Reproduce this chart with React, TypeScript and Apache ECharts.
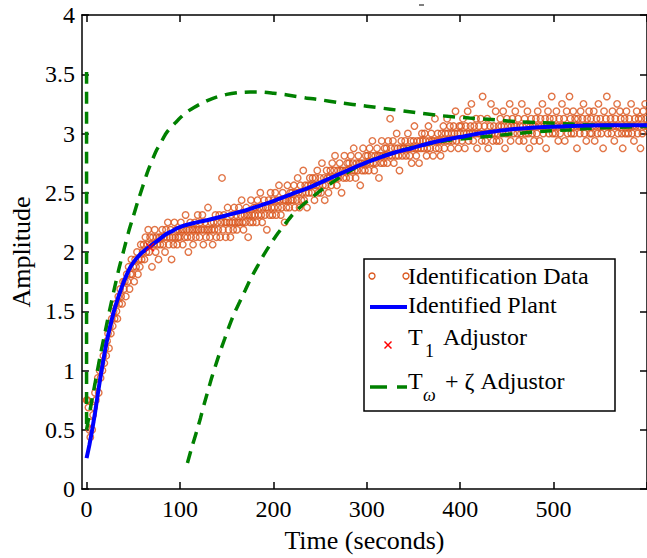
import React, { useEffect, useRef } from "react";
import * as echarts from "echarts";

// ---- axes ----
const X_MIN = -5;
const X_MAX = 600;
const X_TICKS = [0, 100, 200, 300, 400, 500, 600];
const X_LABELS = [0, 100, 200, 300, 400, 500];
const Y_MIN = 0;
const Y_MAX = 4;
const Y_STEP = 0.5;

// ---- identification data (sampled every 1 s, quantised, 1 count = 1/16) ----
const SAMPLE_PERIOD = 1;
const COUNT_LSB = 1 / 16;
const dataCounts = [
  12, 12, 11, 8, 7, 9, 8, 10, 11, 13, 12, 14, 15, 13, 16, 15, 17, 16, 18, 17,
  19, 18, 20, 21, 19, 22, 21, 23, 22, 24, 23, 25, 24, 23, 26, 25, 27, 26, 25, 28,
  27, 28, 26, 29, 28, 30, 27, 29, 31, 29, 30, 28, 31, 30, 32, 29, 31, 30, 33, 31,
  32, 33, 31, 34, 32, 33, 35, 32, 34, 33, 30, 34, 33, 35, 32, 34, 33, 31, 34, 33,
  34, 35, 33, 34, 32, 35, 34, 36, 33, 34, 35, 31, 34, 33, 36, 34, 35, 33, 34, 35,
  34, 36, 35, 33, 35, 34, 37, 35, 34, 32, 35, 36, 34, 35, 33, 35, 36, 34, 35, 37,
  35, 34, 36, 35, 37, 33, 35, 36, 34, 35, 38, 35, 34, 36, 35, 33, 36, 35, 37, 34,
  36, 35, 37, 34, 36, 42, 35, 37, 36, 34, 36, 38, 35, 36, 34, 37, 36, 35, 38, 36,
  37, 35, 36, 38, 36, 37, 39, 36, 35, 37, 36, 38, 37, 34, 37, 36, 39, 37, 36, 38,
  37, 38, 36, 39, 37, 38, 40, 37, 36, 38, 39, 37, 38, 35, 38, 39, 37, 40, 38, 37,
  39, 38, 40, 37, 39, 38, 41, 39, 37, 38, 40, 39, 36, 39, 38, 41, 39, 38, 40, 39,
  40, 39, 41, 38, 40, 39, 42, 40, 38, 41, 39, 40, 43, 39, 41, 40, 38, 41, 40, 42,
  41, 40, 42, 41, 39, 42, 41, 43, 40, 41, 42, 40, 44, 41, 42, 39, 41, 43, 42, 40,
  42, 43, 41, 44, 42, 43, 45, 42, 41, 43, 42, 44, 43, 40, 43, 42, 45, 43, 42, 44,
  43, 44, 42, 45, 43, 44, 46, 43, 42, 44, 43, 45, 44, 41, 44, 43, 46, 44, 43, 45,
  44, 45, 43, 46, 44, 45, 47, 44, 43, 45, 44, 46, 45, 42, 45, 44, 47, 45, 44, 46,
  45, 46, 44, 47, 45, 50, 46, 45, 47, 44, 46, 45, 48, 46, 45, 43, 46, 47, 45, 46,
  46, 47, 45, 46, 48, 46, 45, 47, 44, 46, 47, 49, 46, 45, 47, 46, 44, 47, 46, 48,
  47, 46, 48, 47, 45, 46, 49, 47, 46, 48, 47, 45, 47, 50, 46, 47, 48, 46, 47, 45,
  48, 47, 49, 46, 48, 47, 50, 48, 47, 49, 46, 48, 47, 49, 48, 51, 47, 48, 46, 49,
  48, 49, 47, 50, 48, 46, 49, 48, 51, 47, 48, 49, 52, 48, 47, 49, 48, 50, 46, 48,
  49, 48, 50, 47, 53, 48, 49, 47, 48, 50, 46, 48, 49, 52, 48, 47, 49, 48, 51, 47,
  48, 49, 47, 50, 49, 48, 51, 49, 46, 48, 50, 49, 48, 52, 47, 49, 50, 48, 49, 51,
  49, 48, 50, 47, 49, 48, 52, 49, 47, 50, 48, 49, 51, 48, 46, 49, 50, 48, 49, 47,
  49, 50, 48, 51, 49, 47, 50, 49, 52, 48, 49, 50, 46, 49, 51, 48, 50, 49, 53, 48,
  50, 49, 48, 51, 49, 47, 50, 48, 49, 52, 49, 50, 47, 49, 51, 48, 49, 53, 50, 48,
  49, 51, 48, 50, 49, 46, 50, 49, 48, 51, 49, 50, 52, 48, 49, 47, 50, 49, 51, 48,
  50, 48, 49, 51, 47, 49, 50, 48, 52, 49, 50, 48, 49, 46, 51, 49, 50, 53, 48, 49,
  49, 50, 48, 51, 49, 47, 50, 49, 52, 48, 49, 51, 50, 48, 46, 49, 50, 48, 51, 49,
  48, 50, 49, 52, 48, 49, 47, 50, 49, 51, 48, 50, 49, 46, 50, 48, 51, 49, 52, 50,
  49,
];

// ---- identified plant (blue) ----
const plantT = [0, 3, 6, 9, 12, 15, 18, 21, 24, 27, 30, 34, 38, 42, 46, 50, 55, 60, 65, 70, 75, 80, 85, 90, 97, 105, 115, 130, 150, 170, 185, 200, 220, 240, 260, 280, 298, 315, 330, 350, 368, 385, 400, 420, 439, 455, 470, 490, 509, 530, 550, 600];
const plantV = [0.26, 0.37, 0.5, 0.64, 0.8, 0.95, 1.09, 1.22, 1.33, 1.43, 1.52, 1.62, 1.71, 1.79, 1.86, 1.91, 1.96, 2.0, 2.03, 2.06, 2.09, 2.12, 2.15, 2.17, 2.2, 2.225, 2.245, 2.27, 2.31, 2.35, 2.39, 2.43, 2.49, 2.55, 2.62, 2.69, 2.75, 2.8, 2.84, 2.88, 2.92, 2.95, 2.97, 3.0, 3.02, 3.035, 3.045, 3.055, 3.06, 3.065, 3.07, 3.07];

// ---- T1 adjustor (red x) ----
const t1T = [68];
const t1V = [2.04];

// ---- Tw + zeta adjustor (green dashed) ----
const handleT = [0, 0];
const handleV = [3.52, 0.5];
const upperT = [0, 5, 10, 15, 20, 25, 30, 35, 40, 45, 50, 55, 60, 65, 70, 75, 80, 85, 90, 95, 100, 107, 115, 122, 130, 140, 150, 162, 175, 188, 200, 215, 235, 250, 270, 285, 300, 325, 350, 380, 410, 430, 460, 490, 520, 550, 600];
const upperV = [0.5, 0.72, 0.93, 1.14, 1.33, 1.52, 1.7, 1.87, 2.02, 2.17, 2.3, 2.43, 2.55, 2.67, 2.77, 2.86, 2.93, 3.0, 3.05, 3.09, 3.13, 3.18, 3.22, 3.25, 3.28, 3.31, 3.33, 3.345, 3.35, 3.35, 3.34, 3.325, 3.3, 3.285, 3.26, 3.245, 3.23, 3.205, 3.18, 3.15, 3.13, 3.12, 3.1, 3.09, 3.08, 3.07, 3.07];
const lowerT = [108, 113, 118, 122, 126, 130, 134, 138, 143, 148, 152, 158, 164, 170, 176, 183, 190, 198, 205, 212, 220, 229, 238, 249, 260, 275, 290, 310, 330, 350, 370, 390, 410, 435, 460, 490, 516, 540, 560, 600];
const lowerV = [0.22, 0.36, 0.49, 0.6, 0.72, 0.83, 0.94, 1.04, 1.16, 1.27, 1.36, 1.48, 1.58, 1.68, 1.78, 1.88, 1.98, 2.08, 2.16, 2.23, 2.31, 2.38, 2.44, 2.51, 2.57, 2.65, 2.72, 2.79, 2.84, 2.885, 2.92, 2.945, 2.96, 2.98, 3.0, 3.02, 3.03, 3.045, 3.05, 3.06];

const FONT = "Liberation Serif";
const ORANGE = "#D95319";
const GREEN = "#008000";
const BLUE = "#0000FF";
const RED = "#FF0000";
const DASH = [12, 8];

const pairs = (xs: number[], ys: number[]) => xs.map((x, i) => [x, ys[i]]);

export default function App() {
  const ref = useRef<HTMLDivElement>(null);

  useEffect(() => {
    if (!ref.current) return;
    const chart = echarts.init(ref.current, undefined, { renderer: "svg" });

    const scatterData = dataCounts.map((c, i) => [i * SAMPLE_PERIOD, c * COUNT_LSB]);

    const axisLine = { show: true, onZero: false, lineStyle: { color: "#000", width: 1.5 } };
    const tick = { show: true, inside: true, length: 7, lineStyle: { color: "#000", width: 1.5 } };

    const greenLine = (name: string, data: number[][]) => ({
      type: "line",
      name,
      data,
      symbol: "none",
      smooth: 0.2,
      lineStyle: { color: GREEN, width: 3.5, type: DASH, cap: "butt" },
      z: 3,
    });

    const text = (x: number, y: number, t: string, size = 24, italic = false) => ({
      type: "text",
      x,
      y,
      z: 101,
      style: {
        text: t,
        fill: "#000",
        fontFamily: FONT,
        fontSize: size,
        fontStyle: italic ? "italic" : "normal",
        verticalAlign: "middle",
        align: "left",
      },
    });

    chart.setOption({
      animation: false,
      backgroundColor: "#fff",
      textStyle: { fontFamily: FONT },
      grid: { left: 79.5, top: 15, width: 573.3, height: 477, containLabel: false },
      xAxis: [
        {
          type: "value",
          min: X_MIN,
          max: X_MAX,
          position: "bottom",
          axisLine,
          axisTick: { ...tick, customValues: X_TICKS },
          axisLabel: {
            customValues: X_LABELS,
            color: "#000",
            fontSize: 24,
            fontFamily: FONT,
            margin: 8,
          },
          splitLine: { show: false },
          name: "Time (seconds)",
          nameLocation: "middle",
          nameGap: 38,
          nameTextStyle: { color: "#000", fontSize: 26, fontFamily: FONT },
        },
        {
          type: "value",
          min: X_MIN,
          max: X_MAX,
          position: "top",
          axisLine,
          axisTick: { ...tick, customValues: X_TICKS },
          axisLabel: { show: false },
          splitLine: { show: false },
        },
      ],
      yAxis: [
        {
          type: "value",
          min: Y_MIN,
          max: Y_MAX,
          interval: Y_STEP,
          position: "left",
          axisLine,
          axisTick: tick,
          axisLabel: { color: "#000", fontSize: 24, fontFamily: FONT, margin: 7 },
          splitLine: { show: false },
          name: "Amplitude",
          nameLocation: "middle",
          nameGap: 46,
          nameRotate: 90,
          nameTextStyle: { color: "#000", fontSize: 26, fontFamily: FONT },
        },
        {
          type: "value",
          min: Y_MIN,
          max: Y_MAX,
          interval: Y_STEP,
          position: "right",
          axisLine,
          axisTick: tick,
          axisLabel: { show: false },
          splitLine: { show: false },
        },
      ],
      series: [
        {
          type: "scatter",
          name: "Identification Data",
          data: scatterData,
          symbol: "circle",
          symbolSize: 6.5,
          itemStyle: { color: "rgba(0,0,0,0)", borderColor: ORANGE, borderWidth: 1.4 },
          z: 2,
        },
        greenLine("Tw + zeta Adjustor", pairs(handleT, handleV)),
        greenLine("Tw + zeta Adjustor", pairs(upperT, upperV)),
        greenLine("Tw + zeta Adjustor", pairs(lowerT, lowerV)),
        {
          type: "line",
          name: "Identified Plant",
          data: pairs(plantT, plantV),
          symbol: "none",
          smooth: 0.2,
          lineStyle: { color: BLUE, width: 4 },
          z: 4,
        },
        {
          type: "scatter",
          name: "T1 Adjustor",
          data: pairs(t1T, t1V),
          symbol: "path://M0,0L10,10M10,0L0,10",
          symbolSize: 8,
          itemStyle: { color: "none", borderColor: RED, borderWidth: 1.5 },
          z: 5,
        },
      ],
      graphic: [
        {
          type: "line",
          shape: { x1: 419, y1: 5, x2: 424, y2: 5 },
          style: { stroke: "#000", lineWidth: 1 },
          z: 100,
        },
        {
          type: "rect",
          shape: { x: 364, y: 259, width: 251, height: 152 },
          style: { fill: "#fff", stroke: "#000", lineWidth: 1.5 },
          z: 100,
        },
        { type: "circle", shape: { cx: 372, cy: 276, r: 3 }, style: { fill: "none", stroke: ORANGE, lineWidth: 1.3 }, z: 101 },
        { type: "circle", shape: { cx: 406, cy: 276, r: 3 }, style: { fill: "none", stroke: ORANGE, lineWidth: 1.3 }, z: 101 },
        text(408, 276, "Identification Data"),
        { type: "line", shape: { x1: 370, y1: 307, x2: 407, y2: 307 }, style: { stroke: BLUE, lineWidth: 4 }, z: 101 },
        text(408, 305, "Identified Plant"),
        { type: "line", shape: { x1: 384.5, y1: 341.5, x2: 391.5, y2: 348.5 }, style: { stroke: RED, lineWidth: 1.5 }, z: 101 },
        { type: "line", shape: { x1: 391.5, y1: 341.5, x2: 384.5, y2: 348.5 }, style: { stroke: RED, lineWidth: 1.5 }, z: 101 },
        text(408, 337, "T"),
        text(425, 351, "1", 18),
        text(443, 337, "Adjustor"),
        { type: "line", shape: { x1: 370, y1: 387, x2: 387, y2: 387 }, style: { stroke: GREEN, lineWidth: 3.5 }, z: 101 },
        { type: "line", shape: { x1: 397, y1: 387, x2: 407, y2: 387 }, style: { stroke: GREEN, lineWidth: 3.5 }, z: 101 },
        text(408, 381, "T"),
        text(423, 395, "\u03c9", 18, true),
        text(445, 381, "+ \u03b6 Adjustor"),
      ],
    });

    return () => chart.dispose();
  }, []);

  return (
    <div
      ref={ref}
      style={{ position: "fixed", left: 0, top: 0, width: 647, height: 558, background: "#fff" }}
    />
  );
}
